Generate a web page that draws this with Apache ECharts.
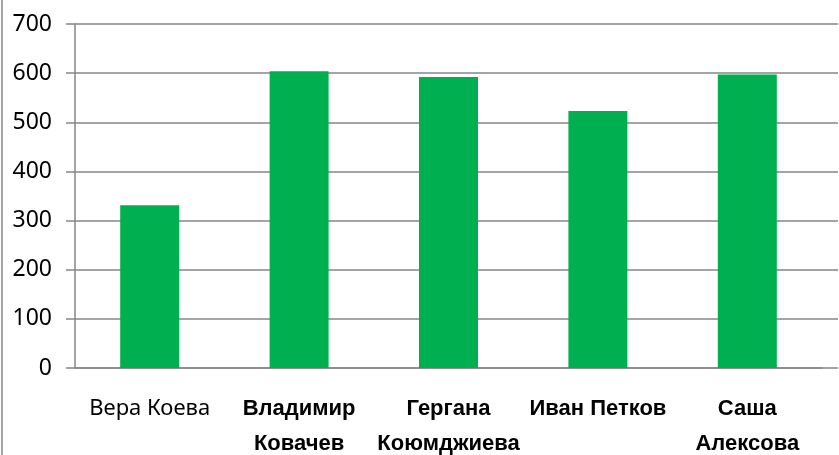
<!DOCTYPE html>
<html><head><meta charset="utf-8">
<script src="https://cdn.jsdelivr.net/npm/echarts@6/dist/echarts.min.js"></script>
<style>html,body{margin:0;padding:0;background:#fff}#c{width:839px;height:455px}</style>
</head><body><div id="c"></div>
<script>
const categories = ['Вера Коева', 'Владимир\nКовачев', 'Гергана\nКоюмджиева', 'Иван Петков', 'Саша\nАлексова'];
const values = [331, 604, 592, 523, 597];
const yTicks = [0, 100, 200, 300, 400, 500, 600, 700];

const chart = echarts.init(document.getElementById('c'));
chart.setOption({
  animation: false,
  backgroundColor: '#fff',
  graphic: [{type: 'line', shape: {x1: 2, y1: 0, x2: 2, y2: 455}, style: {stroke: '#868686', lineWidth: 1.5}}],
  grid: [
    {left: 75, right: 17, top: 24, bottom: 87},
    {left: 75, right: 1, top: 24, bottom: 87}
  ],
  xAxis: [
    {type: 'category', gridIndex: 0, data: categories,
     axisLine: {lineStyle: {color: '#868686', width: 1.5}},
     axisTick: {length: 8, interval: 0, lineStyle: {color: '#868686', width: 1.5}},
     axisLabel: {interval: 0, margin: 23, color: '#000',
       formatter: function (v, i) {
         const st = i === 0 ? 'r' : 'b';
         return v.split('\n').map(s => '{' + st + '|' + s + '}').join('\n');
       },
       rich: {
         r: {fontFamily: 'Noto Sans', fontSize: 22, color: '#000', lineHeight: 35},
         b: {fontFamily: 'Liberation Sans', fontWeight: 'bold', fontSize: 22, color: '#000', lineHeight: 35}
       }}},
    {type: 'value', gridIndex: 1, show: false, min: 0, max: 1}
  ],
  yAxis: [
    {type: 'value', gridIndex: 0, min: yTicks[0], max: yTicks[yTicks.length - 1], interval: 100,
     axisLine: {show: true, lineStyle: {color: '#868686', width: 1.5}},
     axisTick: {show: true, length: 9, lineStyle: {color: '#868686', width: 1.5}},
     splitLine: {show: false},
     axisLabel: {margin: 23, color: '#000', fontFamily: 'Noto Sans', fontSize: 23,
       formatter: '{y|{value}}',
       rich: {y: {fontFamily: 'Noto Sans', fontSize: 23, color: '#000'}}}},
    {type: 'value', gridIndex: 1, min: yTicks[0], max: yTicks[yTicks.length - 1], interval: 100,
     axisLine: {show: false}, axisTick: {show: false}, axisLabel: {show: false},
     splitLine: {show: true, lineStyle: {color: '#868686', width: 1.5}}}
  ],
  series: [{type: 'bar', xAxisIndex: 0, yAxisIndex: 0, data: values, barWidth: 59, z: 5,
            itemStyle: {color: '#00B050'}}]
});
</script></body></html>
